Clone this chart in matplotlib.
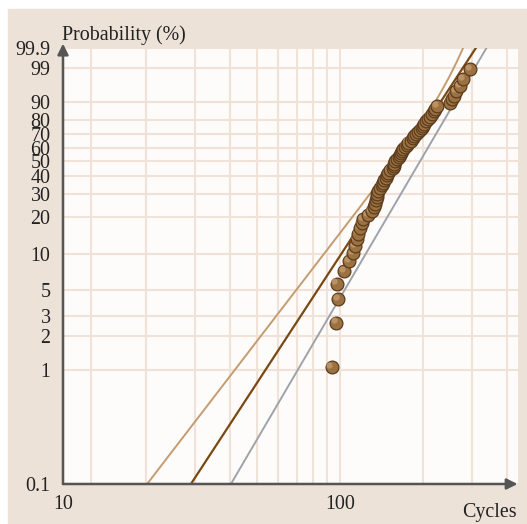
import numpy as np
import matplotlib.pyplot as plt
from matplotlib.patches import Rectangle
from matplotlib.transforms import ScaledTranslation

plt.rcParams['font.family'] = ['Liberation Serif', 'DejaVu Serif']

# failure cycles in rank order (65 specimens)
cycles = [93.3, 96.7, 98.6, 97.3, 103.4, 108.2, 111.7, 113.3, 114.9, 116.5,
          118.1, 119.8, 121.4, 126.6, 130.2, 132.7, 133.8, 134.9, 135.7, 136.6,
          137.7, 139.5, 141.5, 143.0, 144.8, 146.6, 147.8, 149.4, 152.2, 155.4,
          156.7, 157.3, 158.6, 160.6, 163.3, 164.7, 166.1, 167.9, 169.6, 171.7,
          174.1, 176.8, 180.5, 183.5, 185.8, 188.9, 191.3, 194.5, 197.2, 199.4,
          201.8, 204.4, 207.8, 211.3, 214.8, 218.4, 221.2, 224.5, 249.5, 253.7,
          257.9, 263.8, 271.2, 278.7, 294.6]

# fitted models: (shape, scale)
fit_dark = (3.73, 184.6)
fit_gray = (4.16, 212.6)
# two-term cumulative hazard for the light curve
fit_light = [(3.17, 177.9), (9.07, 249.2)]

prob_ticks = [0.1, 1, 2, 3, 5, 10, 20, 30, 40, 50, 60, 70, 80, 90, 99, 99.9]
prob_labels = ['0.1', '1', '2', '3', '5', '10', '20', '30', '40', '50', '60',
               '70', '80', '90', '99', '99.9']
cycle_ticks = [10, 100]
cycle_grid = [12.6, 20, 30, 40, 50, 60, 70, 80, 90, 200, 300, 400]

beige = '#ede2d8'
grid_col = '#f0e2d7'
axis_col = '#555555'


def weib_fwd(p):
    p = np.clip(np.asarray(p, dtype=float), 1e-9, 100 - 1e-9)
    return np.log(-np.log(1 - p / 100))


def weib_inv(w):
    return 100 * (1 - np.exp(-np.exp(w)))


n = len(cycles)
ranks = np.arange(1, n + 1)
median_rank = (ranks - 0.3) / (n + 0.4) * 100

fig = plt.figure(figsize=(5.27, 5.24), dpi=100)
fig.patch.set_facecolor('white')
fig.patches.append(Rectangle((8 / 527, 0), 1, (524 - 9) / 524,
                             transform=fig.transFigure, color=beige, zorder=-10))

ax = fig.add_axes([63 / 527, 40 / 524, 455 / 527, 436 / 524])
ax.set_facecolor('#fefcfb')
ax.set_xscale('log')
ax.set_yscale('function', functions=(weib_fwd, weib_inv))
ax.set_xlim(10, 440)
ax.set_ylim(0.1, 99.9)

xs = np.geomspace(12, 440, 400)
h_light = sum((xs / eta) ** b for b, eta in fit_light)
ax.plot(xs, 100 * (1 - np.exp(-h_light)), color='#c49c70', lw=1.4, zorder=3)
b, eta = fit_dark
ax.plot(xs, 100 * (1 - np.exp(-(xs / eta) ** b)), color='#7a4812', lw=1.6, zorder=3)
b, eta = fit_gray
ax.plot(xs, 100 * (1 - np.exp(-(xs / eta) ** b)), color='#9ea3aa', lw=1.4, zorder=3)

# shaded beads: each point gets its own highlight so overlaps stay clean
shine = ax.transData + ScaledTranslation(-1.6 / 72, 1.6 / 72, fig.dpi_scale_trans)
for i, (c, p) in enumerate(zip(cycles, median_rank)):
    z = 5 + i * 0.01
    ax.plot(c, p, 'o', ms=9.2, mfc='#9c7142', mec='#5a3b1b', mew=0.9, zorder=z)
    ax.plot(c, p, 'o', ms=4.5, mfc='#c29b70', mec='none', alpha=0.8,
            transform=shine, zorder=z + 0.005)

ax.set_yticks(prob_ticks)
ax.set_yticklabels(prob_labels)
ax.yaxis.set_minor_locator(plt.NullLocator())
ax.set_xticks(cycle_ticks)
ax.set_xticklabels([str(t) for t in cycle_ticks])
ax.set_xticks(cycle_grid, minor=True)
ax.xaxis.set_minor_formatter(plt.NullFormatter())
ax.tick_params(axis='both', which='both', length=0, labelsize=14.4,
               colors='#222222')
ax.tick_params(axis='y', pad=9)
ax.tick_params(axis='x', pad=8)
ax.grid(True, which='both', color=grid_col, lw=1.5, zorder=1)
ax.set_axisbelow(True)

for side in ['top', 'right', 'left', 'bottom']:
    ax.spines[side].set_visible(False)

ax.annotate('', xy=(0, 1.01), xytext=(0, 0), xycoords='axes fraction',
            arrowprops=dict(arrowstyle='-|>', color=axis_col, lw=1.8,
                            mutation_scale=16, shrinkA=0, shrinkB=0))
ax.annotate('', xy=(0.999, 0), xytext=(0, 0), xycoords='axes fraction',
            arrowprops=dict(arrowstyle='-|>', color=axis_col, lw=1.8,
                            mutation_scale=16, shrinkA=0, shrinkB=0))

fig.text(62 / 527, (524 - 35) / 524, 'Probability (%)', fontsize=14.4,
         ha='left', va='center', color='#222222')
fig.text(517 / 527, (524 - 512) / 524, 'Cycles', fontsize=14.4,
         ha='right', va='center', color='#222222')

fig.savefig('out.png', dpi=100)
